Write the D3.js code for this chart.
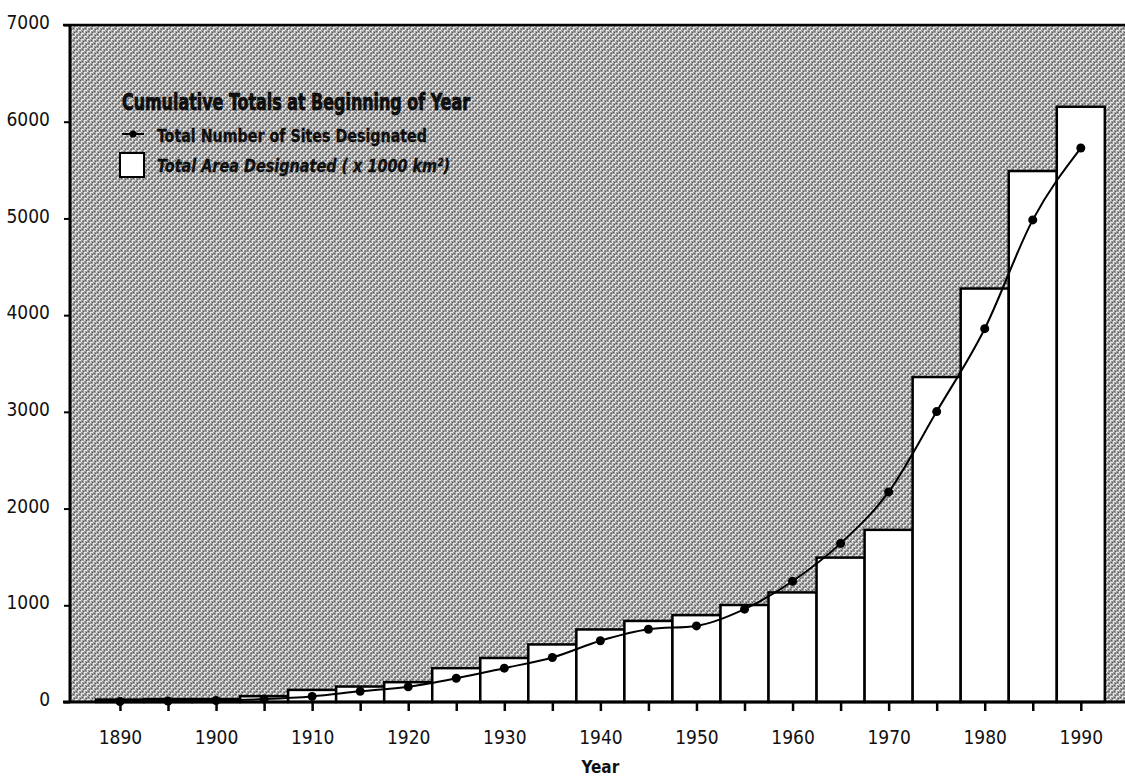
<!DOCTYPE html>
<html>
<head>
<meta charset="utf-8">
<script src="https://cdn.jsdelivr.net/npm/d3@7"></script>
<style>
  html, body { margin: 0; padding: 0; background: #fff; }
  svg { display: block; }
  text { font-family: "Liberation Sans Narrow", "DejaVu Sans Condensed", "Liberation Sans", sans-serif; fill: #111; }
</style>
</head>
<body>
<svg id="chart" width="1125" height="776"></svg>
<script>
// ---- data ----
const years = [1890, 1895, 1900, 1905, 1910, 1915, 1920, 1925, 1930, 1935, 1940,
               1945, 1950, 1955, 1960, 1965, 1970, 1975, 1980, 1985, 1990];
const areaValues = [25, 30, 30, 60, 125, 160, 205, 350, 455, 595, 750,
                    838, 898, 1003, 1133, 1493, 1780, 3360, 4275, 5490, 6155];
const siteValues = [5, 10, 15, 30, 58, 110, 158, 245, 350, 460, 633,
                    752, 787, 960, 1249, 1640, 2172, 3003, 3860, 4985, 5728];
const xTickYears = [1890, 1895, 1900, 1905, 1910, 1915, 1920, 1925, 1930, 1935, 1940,
                    1945, 1950, 1955, 1960, 1965, 1970, 1975, 1980, 1985, 1990];
const xLabelYears = [1890, 1900, 1910, 1920, 1930, 1940, 1950, 1960, 1970, 1980, 1990];
const yTicks = [0, 1000, 2000, 3000, 4000, 5000, 6000, 7000];
const legendTitle = "Cumulative Totals at Beginning of Year";
const legendSites = "Total Number of Sites Designated";
const legendArea = "Total Area Designated ( x 1000 km\u00B2)";
const xAxisTitle = "Year";

// ---- layout ----
const plotL = 70, plotR = 1125, plotT = 25, plotB = 702;
const x = d3.scaleLinear().domain([1884.8, 1994.6]).range([plotL, plotR]);
const y = d3.scaleLinear().domain([0, 7000]).range([plotB, plotT]);

const svg = d3.select("#chart");
const defs = svg.append("defs");
const pat = defs.append("pattern").attr("id", "grain")
  .attr("patternUnits", "userSpaceOnUse").attr("width", 6).attr("height", 6);
pat.append("rect").attr("width", 6).attr("height", 6).attr("fill", "#9c9c9c");
[[0,0,3,1],[0,0,1,3],[3,3,3,1],[3,3,1,3]].forEach(r =>
  pat.append("rect").attr("x", r[0]).attr("y", r[1]).attr("width", r[2]).attr("height", r[3]).attr("fill", "#e6e6e6"));
[[2,2],[5,5],[4,1],[1,4]].forEach(r =>
  pat.append("rect").attr("x", r[0]).attr("y", r[1]).attr("width", 1).attr("height", 1).attr("fill", "#5c5c5c"));

// background
svg.append("rect").attr("x", plotL).attr("y", plotT)
  .attr("width", plotR - plotL).attr("height", plotB - plotT)
  .attr("fill", "url(#grain)");

// bars
const halfW = x(1892.5) - x(1890);
svg.append("g").selectAll("rect").data(years).join("rect")
  .attr("x", (d) => x(d - 2.5))
  .attr("width", halfW * 2)
  .attr("y", (d, i) => y(areaValues[i]))
  .attr("height", (d, i) => y(0) - y(areaValues[i]))
  .attr("fill", "#fff").attr("stroke", "#000").attr("stroke-width", 2.5);

// line
const pts = years.map((d, i) => [d, siteValues[i]]);
const line = d3.line().x(d => x(d[0])).y(d => y(d[1])).curve(d3.curveMonotoneX);
svg.append("path").datum(pts).attr("d", line)
  .attr("fill", "none").attr("stroke", "#000").attr("stroke-width", 2);
svg.append("g").selectAll("circle").data(pts).join("circle")
  .attr("cx", d => x(d[0])).attr("cy", d => y(d[1])).attr("r", 4.5).attr("fill", "#000");

// axes
const yAxis = d3.axisLeft(y).tickValues(yTicks).tickSize(6).tickPadding(10).tickFormat(d3.format("d"));
const gy = svg.append("g").attr("transform", `translate(${plotL},0)`).call(yAxis);
gy.select(".domain").remove();
gy.selectAll(".tick line").attr("stroke", "#000").attr("stroke-width", 2);
gy.selectAll(".tick text").attr("font-size", 19).attr("dy", "0.35em")
  .attr("transform", "translate(-4,-3)")
  .style("font-family", "'Liberation Sans Narrow', 'DejaVu Sans Condensed', sans-serif").attr("fill", "#111");

const xAxis = d3.axisBottom(x).tickValues(xTickYears).tickSize(9).tickPadding(20)
  .tickFormat(d => xLabelYears.includes(d) ? String(d) : "");
const gx = svg.append("g").attr("transform", `translate(0,${plotB})`).call(xAxis);
gx.select(".domain").remove();
gx.selectAll(".tick line").attr("stroke", "#000").attr("stroke-width", 2.5);
gx.selectAll(".tick text").attr("font-size", 19)
  .style("font-family", "'Liberation Sans Narrow', 'DejaVu Sans Condensed', sans-serif").attr("fill", "#111");

// axis lines
svg.append("line").attr("x1", 63).attr("x2", plotR).attr("y1", plotB).attr("y2", plotB)
  .attr("stroke", "#000").attr("stroke-width", 3);
svg.append("line").attr("x1", plotL).attr("x2", plotL).attr("y1", plotT - 1).attr("y2", plotB)
  .attr("stroke", "#000").attr("stroke-width", 3);
svg.append("line").attr("x1", 63).attr("x2", plotR).attr("y1", plotT).attr("y2", plotT)
  .attr("stroke", "#000").attr("stroke-width", 2.5);

// axis title
svg.append("text").attr("x", x(1940)).attr("y", 773).attr("text-anchor", "middle")
  .attr("font-size", 17).attr("font-weight", "bold").text(xAxisTitle);

// legend
const lg = svg.append("g");
lg.append("text").attr("x", 122).attr("y", 110).attr("font-size", 23).attr("font-weight", "bold")
  .attr("stroke", "#000").attr("stroke-width", 0.7)
  .attr("textLength", 348).attr("lengthAdjust", "spacingAndGlyphs").text(legendTitle);
lg.append("line").attr("x1", 122).attr("x2", 144).attr("y1", 134).attr("y2", 134)
  .attr("stroke", "#000").attr("stroke-width", 2);
lg.append("circle").attr("cx", 133).attr("cy", 134).attr("r", 3.5).attr("fill", "#000");
lg.append("text").attr("x", 157).attr("y", 142).attr("font-size", 18).attr("font-weight", "bold")
  .attr("stroke", "#000").attr("stroke-width", 0.3)
  .attr("textLength", 270).attr("lengthAdjust", "spacingAndGlyphs").text(legendSites);
lg.append("rect").attr("x", 120).attr("y", 153).attr("width", 24).attr("height", 24)
  .attr("fill", "#fff").attr("stroke", "#000").attr("stroke-width", 2);
lg.append("text").attr("x", 157).attr("y", 172).attr("font-size", 18).attr("font-weight", "bold")
  .attr("font-style", "italic").attr("stroke", "#000").attr("stroke-width", 0.3)
  .attr("textLength", 293).attr("lengthAdjust", "spacingAndGlyphs").text(legendArea);
</script>
</body>
</html>
